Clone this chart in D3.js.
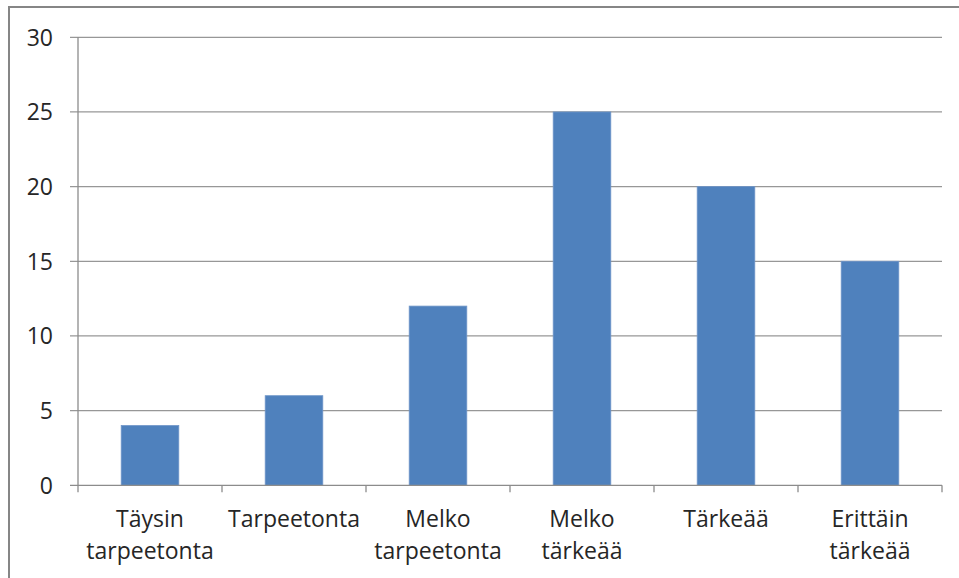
<!DOCTYPE html>
<html><head><meta charset="utf-8">
<script src="https://cdn.jsdelivr.net/npm/d3@7"></script>
<style>body{margin:0;background:#fff}svg{display:block}</style>
</head><body><svg id="c" width="959" height="578"></svg>
<script>
const categories = [["Täysin","tarpeetonta"],["Tarpeetonta"],["Melko","tarpeetonta"],["Melko","tärkeää"],["Tärkeää"],["Erittäin","tärkeää"]];
const values = [4, 6, 12, 25, 20, 15];
const yTicks = [0, 5, 10, 15, 20, 25, 30];

const svg = d3.select("#c");
const font = "'Open Sans', sans-serif";
svg.append("rect").attr("x",9).attr("y",7).attr("width",1000).attr("height",1000)
  .attr("fill","#fff").attr("stroke","#868686").attr("stroke-width",2);

const x0 = 78, x1 = 942, y0 = 485.3, y1 = 37.3;
const x = d3.scaleBand().domain(d3.range(categories.length)).range([x0, x1]).paddingInner(0.6).paddingOuter(0.3);
const xb = d3.scaleBand().domain(d3.range(categories.length)).range([x0, x1]);
const y = d3.scaleLinear().domain([0, 30]).range([y0, y1]);

// gridlines
svg.append("g").selectAll("line").data(yTicks.filter(t=>t>0)).join("line")
  .attr("x1", 70).attr("x2", x1).attr("y1", d=>y(d)).attr("y2", d=>y(d))
  .attr("stroke","#979797").attr("stroke-width",1.3);

// bars
svg.append("g").selectAll("rect").data(values).join("rect")
  .attr("x",(d,i)=>x(i)).attr("width",x.bandwidth())
  .attr("y",d=>y(d)).attr("height",d=>y0-y(d))
  .attr("fill","#4F81BD").attr("stroke","#6E95C8").attr("stroke-width",0.8);

// axes
const ax = svg.append("g").attr("stroke","#8c8c8c").attr("stroke-width",1.3);
ax.append("line").attr("x1",x0).attr("x2",x0).attr("y1",y1).attr("y2",y0);
ax.append("line").attr("x1",70).attr("x2",x1).attr("y1",y0).attr("y2",y0);
ax.selectAll(".xt").data(d3.range(categories.length+1)).join("line")
  .attr("x1",i=>i<categories.length?xb(i):x1).attr("x2",i=>i<categories.length?xb(i):x1)
  .attr("y1",y0).attr("y2",y0+7);

// y labels
svg.append("g").selectAll("text").data(yTicks).join("text")
  .attr("x",53).attr("y",d=>y(d)).attr("dy","0.36em").attr("text-anchor","end")
  .attr("font-family",font).attr("font-size",23).attr("fill","#262626").text(d=>d);

// x labels
const xl = svg.append("g").selectAll("text").data(categories).join("text")
  .attr("text-anchor","middle").attr("font-family",font).attr("font-size",23).attr("fill","#262626")
  .attr("transform",(d,i)=>`translate(${xb(i)+xb.bandwidth()/2},527)`);
xl.selectAll("tspan").data(d=>d).join("tspan").attr("x",0).attr("y",(d,j)=>j*31.5).text(d=>d);
</script></body></html>
